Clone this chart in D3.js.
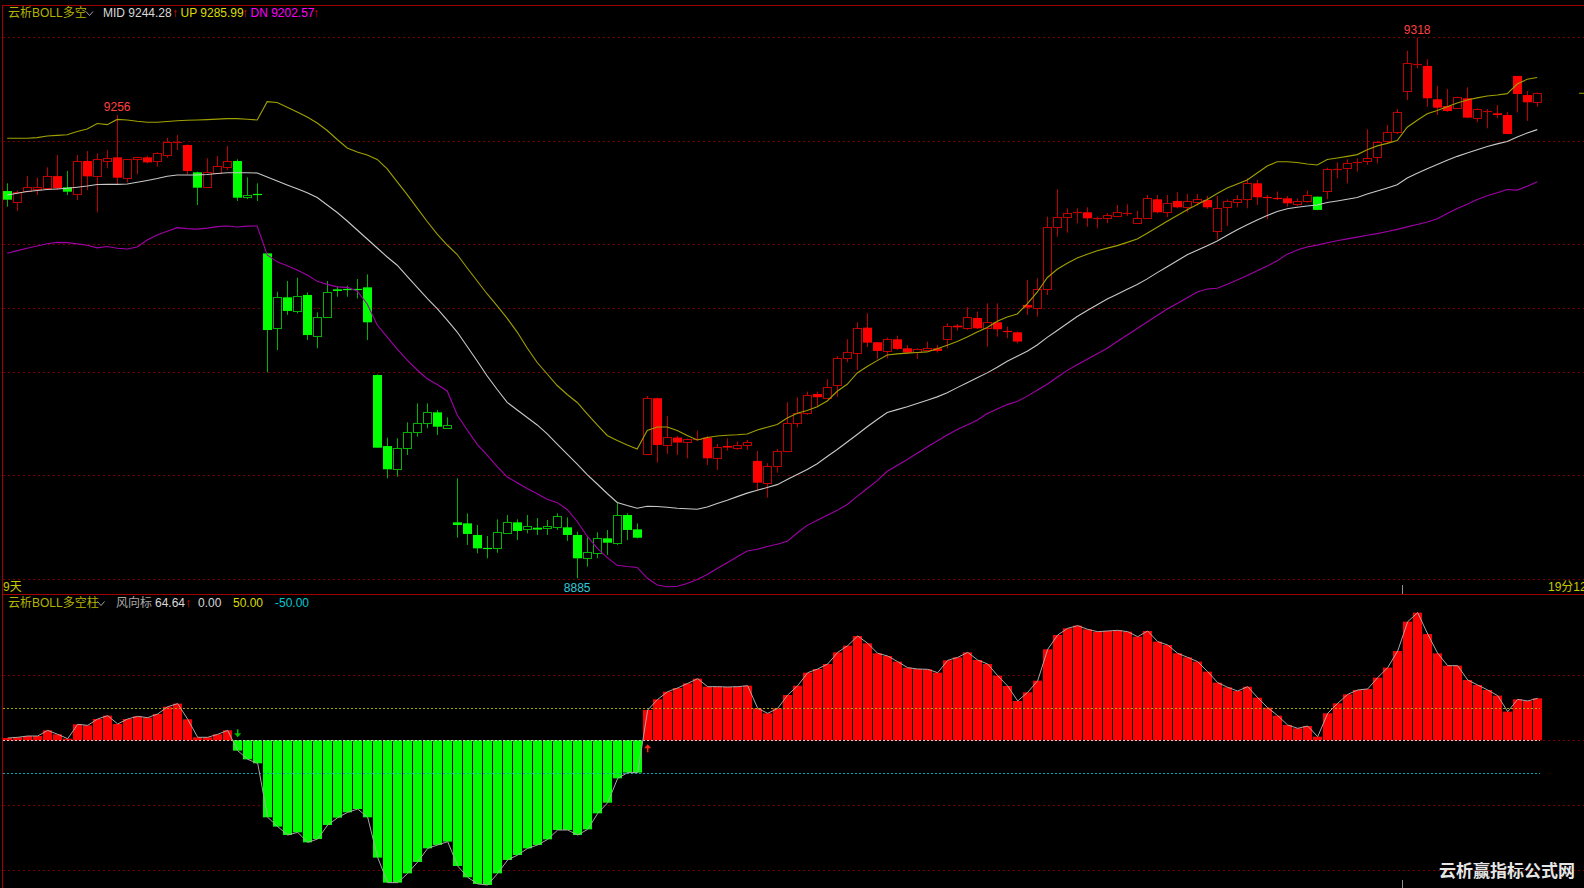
<!DOCTYPE html>
<html><head><meta charset="utf-8">
<script src="https://cdn.jsdelivr.net/npm/d3@7"></script>
<style>
html,body{margin:0;padding:0;background:#000;overflow:hidden}
svg{display:block}
text{font-family:"Liberation Sans","Noto Sans CJK SC",sans-serif}
</style></head><body>
<svg id="c" width="1584" height="888"></svg>
<script>
// ---- candle data (price) ----
const opens=[9195.1,9186.6,9194.6,9196.7,9197.3,9207.1,9198.1,9193.0,9219.2,9206.9,
9218.6,9222.1,9205.3,9220.5,9222.1,9219.2,9224.0,9233.6,9232.0,9210.1,
9197.8,9209.3,9214.6,9219.2,9190.1,9192.5,9145.2,9085.2,9110.0,9099.1,
9111.9,9079.0,9093.7,9116.4,9116.8,9116.8,9118.0,9047.8,8990.9,8972.3,
8989.1,9001.9,9009.1,9017.9,9005.6,8929.8,8929.0,8919.7,8909.1,8909.0,
8921.0,8929.8,8924.2,8925.5,8925.0,8926.4,8925.8,8919.7,8901.0,8905.8,
8917.0,8913.0,8935.7,8924.2,8984.6,9029.2,8991.8,8997.7,8993.9,8996.3,
8997.7,8981.1,8991.0,8989.7,8991.8,8979.0,8961.6,8975.0,8987.0,9009.1,
9017.2,9032.6,9030.0,9039.8,9061.2,9065.2,9085.7,9074.0,9067.1,9076.4,
9069.2,9065.7,9067.9,9069.2,9076.4,9087.3,9085.2,9093.5,9085.2,9090.0,
9083.6,9082.0,9103.9,9101.2,9116.5,9166.1,9174.1,9177.0,9178.1,9173.6,
9173.3,9175.2,9177.6,9170.1,9173.3,9188.5,9178.1,9187.2,9182.1,9186.1,
9188.0,9163.2,9182.6,9186.1,9188.8,9201.3,9190.4,9189.6,9189.3,9184.8,
9187.2,9190.6,9195.2,9212.5,9213.3,9217.9,9219.2,9222.1,9234.7,9242.2,
9274.7,9296.6,9295.3,9268.6,9263.2,9261.4,9269.4,9253.4,9258.7,9257.4,
9256.0,9287.3,9272.0,9266.2];
const highs=[9201.3,9195.5,9207.1,9205.8,9214.1,9224.0,9211.2,9224.0,9227.2,9225.3,
9228.0,9256.0,9220.5,9222.6,9223.4,9226.1,9237.8,9240.0,9232.5,9210.6,
9221.3,9223.2,9231.2,9220.5,9206.1,9201.3,9145.5,9114.5,9123.1,9125.7,
9114.0,9098.0,9123.1,9118.5,9119.3,9124.7,9128.4,9048.3,8997.6,8997.1,
9009.9,9025.1,9025.1,9019.8,9013.9,8965.1,8937.0,8927.7,8918.9,8932.2,
8935.7,8932.2,8935.7,8933.3,8931.7,8937.0,8933.8,8922.4,8917.8,8921.8,
8923.7,8945.8,8937.0,8929.0,9031.0,9029.7,9015.0,8999.0,8997.1,9003.3,
8999.0,8992.6,8997.1,8994.5,8995.8,8987.0,8977.1,8988.6,9026.0,9030.0,
9034.5,9034.5,9044.4,9063.1,9076.4,9090.0,9097.2,9074.2,9077.7,9079.3,
9071.9,9069.2,9074.5,9071.9,9089.2,9088.7,9102.0,9098.6,9105.2,9105.2,
9086.6,9082.6,9123.9,9125.3,9174.6,9196.5,9181.3,9181.3,9182.1,9174.6,
9177.3,9184.0,9184.5,9179.4,9192.0,9192.0,9192.0,9194.1,9192.8,9192.8,
9191.2,9191.2,9188.5,9192.0,9205.3,9204.0,9192.0,9194.7,9191.2,9189.3,
9195.5,9190.8,9213.9,9218.1,9220.5,9221.3,9244.6,9235.2,9248.0,9260.8,
9307.5,9318.0,9300.6,9279.3,9276.8,9270.7,9278.2,9261.4,9260.8,9264.0,
9258.2,9287.3,9275.3,9274.2];
const lows=[9182.6,9179.1,9194.0,9191.9,9196.5,9195.9,9191.9,9187.9,9195.9,9178.1,
9213.3,9199.9,9202.1,9208.5,9217.3,9214.6,9221.8,9228.0,9208.5,9183.9,
9197.8,9209.3,9212.0,9187.1,9188.7,9187.1,9049.9,9067.8,9095.9,9097.2,
9075.8,9069.2,9093.7,9110.5,9110.5,9109.2,9075.8,8989.6,8965.1,8966.4,
8983.7,8998.4,9005.1,8999.7,9005.1,8917.5,8911.7,8905.0,8901.0,8905.5,
8920.5,8915.7,8921.0,8919.7,8919.7,8923.7,8914.9,8885.0,8894.3,8901.0,
8903.7,8911.7,8915.7,8917.0,8984.6,8977.6,8984.6,8983.8,8981.1,8995.3,
8975.8,8971.8,8987.3,8987.8,8987.8,8955.8,8949.6,8969.6,8986.5,9005.9,
9015.8,9022.0,9030.0,9030.5,9058.0,9051.8,9070.0,9060.4,9061.2,9067.9,
9065.2,9060.7,9067.3,9065.7,9069.2,9083.3,9083.9,9084.7,9070.5,9078.5,
9077.2,9073.2,9095.9,9094.6,9111.9,9158.6,9161.8,9169.3,9166.6,9165.3,
9169.3,9174.6,9175.2,9168.8,9173.3,9177.3,9174.1,9181.3,9178.1,9183.5,
9180.8,9156.5,9167.2,9182.1,9181.3,9184.0,9172.5,9188.0,9182.6,9183.2,
9185.9,9179.8,9188.5,9205.3,9201.3,9210.7,9216.0,9217.3,9233.3,9240.6,
9268.0,9293.4,9262.7,9256.0,9258.7,9260.8,9253.4,9250.2,9245.4,9253.4,
9240.6,9258.2,9251.2,9262.7];
const closes=[9188.2,9194.6,9198.1,9198.1,9207.1,9197.3,9194.6,9219.2,9206.9,9220.5,
9221.3,9205.8,9220.5,9222.1,9218.1,9225.3,9234.1,9234.1,9211.2,9197.8,
9210.1,9215.2,9219.2,9189.8,9191.9,9192.4,9083.8,9110.0,9099.1,9110.8,
9079.8,9094.0,9114.0,9115.1,9116.6,9116.6,9090.0,8989.6,8972.3,8989.1,
9001.9,9009.1,9017.9,9006.4,9007.8,8927.7,8920.5,8909.0,8908.9,8921.8,
8929.8,8922.9,8926.6,8924.0,8926.9,8934.9,8919.7,8901.0,8905.8,8917.5,
8913.5,8935.7,8923.7,8917.5,9029.2,8991.8,8997.9,8993.7,8996.3,8996.9,
8981.1,8989.9,8989.7,8991.8,8994.2,8961.6,8975.0,8987.0,9009.1,9017.2,
9031.8,9030.0,9038.5,9061.2,9066.0,9085.2,9073.7,9067.1,9076.4,9068.7,
9065.7,9068.4,9069.2,9067.1,9087.1,9086.0,9094.0,9085.2,9090.0,9084.4,
9083.2,9074.6,9101.8,9116.7,9166.1,9174.1,9177.3,9178.1,9173.3,9173.8,
9176.0,9178.1,9177.8,9173.8,9189.3,9178.1,9185.3,9182.1,9187.2,9188.5,
9182.1,9181.3,9187.2,9188.5,9201.3,9190.1,9190.1,9189.3,9185.3,9187.2,
9192.0,9180.0,9212.8,9213.1,9217.3,9218.4,9221.3,9234.1,9242.2,9258.2,
9297.4,9297.1,9269.4,9261.9,9259.2,9270.2,9253.9,9260.6,9259.0,9256.0,
9240.8,9272.8,9266.2,9273.4];
// candles drawn in the bearish (green) tone
const greenCandles=[0,6,19,23,24,25,26,27,28,29,30,31,32,33,34,35,36,37,38,39,40,41,42,43,44,45,46,47,48,49,
50,51,52,53,54,55,56,57,58,59,60,61,62,63,131];

// ---- BOLL bands ----
const upBand=[9237.4,9237.4,9237.4,9237.9,9239.2,9239.7,9240.2,9242.8,9244.8,9249.2,
9248.3,9252.5,9252.0,9251.0,9250.2,9250.2,9250.8,9251.4,9251.8,9252.0,
9252.3,9252.7,9253.1,9253.1,9252.6,9252.0,9266.7,9266.0,9262.3,9258.4,
9254.4,9249.6,9243.6,9236.4,9229.6,9226.4,9224.0,9220.4,9212.8,9202.4,
9192.3,9181.5,9170.7,9160.7,9151.9,9144.3,9133.5,9123.1,9112.7,9103.1,
9093.1,9082.2,9069.4,9057.8,9048.6,9039.4,9032.2,9025.8,9016.6,9007.8,
8999.4,8995.4,8991.7,8988.5,9003.4,9006.2,9006.2,9003.4,8999.4,8995.8,
8997.8,8999.0,8999.6,8999.9,9000.6,9003.8,9006.0,9008.2,9013.4,9017.2,
9019.4,9022.4,9027.0,9034.8,9040.4,9049.4,9054.6,9059.3,9063.8,9064.7,
9065.3,9065.8,9066.3,9068.8,9071.7,9074.6,9078.2,9082.2,9085.8,9090.8,
9094.3,9096.7,9104.7,9114.1,9125.7,9132.5,9137.3,9141.5,9144.5,9147.3,
9149.4,9151.4,9154.0,9156.8,9161.4,9166.2,9171.0,9175.6,9180.2,9184.3,
9188.3,9193.1,9197.5,9200.8,9204.0,9209.6,9215.2,9218.6,9218.6,9218.0,
9216.8,9216.0,9220.4,9221.6,9222.9,9224.3,9228.2,9231.3,9233.3,9235.6,
9246.2,9251.8,9257.0,9259.7,9262.7,9265.6,9268.1,9269.7,9271.2,9272.0,
9273.1,9280.8,9284.7,9286.0];
const midBand=[9191.9,9193.4,9194.7,9195.5,9196.3,9196.8,9197.4,9198.2,9199.1,9200.3,
9200.5,9200.5,9200.7,9202.1,9203.6,9205.2,9207.0,9208.0,9208.0,9208.0,
9208.4,9209.2,9209.8,9209.8,9209.8,9209.6,9206.4,9203.2,9200.0,9196.9,
9193.8,9189.9,9183.9,9177.9,9171.1,9163.9,9156.7,9149.5,9142.3,9135.7,
9126.7,9117.9,9109.1,9100.9,9091.8,9082.2,9070.6,9059.0,9047.0,9036.2,
9025.9,9019.8,9013.8,9007.8,9000.6,8992.5,8984.5,8976.5,8968.1,8960.5,
8952.9,8945.7,8943.3,8941.1,8942.7,8942.5,8941.9,8941.1,8940.7,8940.3,
8942.1,8944.9,8947.5,8950.4,8953.2,8955.5,8957.7,8960.0,8964.1,8968.1,
8972.1,8976.8,8982.5,8988.2,8994.2,9000.2,9006.4,9012.2,9017.8,9020.1,
9022.4,9025.0,9027.6,9030.3,9033.6,9037.7,9041.6,9045.6,9049.5,9054.0,
9058.8,9062.8,9066.8,9071.8,9077.9,9083.5,9089.0,9094.6,9099.4,9104.0,
9108.7,9112.5,9116.5,9120.3,9124.8,9129.8,9134.5,9139.3,9144.1,9147.8,
9151.3,9155.1,9159.7,9164.2,9168.1,9171.9,9175.5,9178.7,9181.0,9182.1,
9183.2,9183.9,9185.9,9187.2,9188.6,9189.9,9192.7,9195.2,9197.6,9200.1,
9205.6,9209.3,9213.0,9216.3,9219.7,9222.9,9225.6,9228.2,9230.8,9232.9,
9234.8,9238.4,9241.6,9244.3];
const dnBand=[9145.3,9147.4,9149.3,9151.1,9152.9,9154.0,9153.8,9152.8,9151.7,9149.6,
9150.7,9149.3,9148.7,9150.3,9155.9,9159.9,9163.0,9165.8,9165.0,9164.6,
9165.4,9166.6,9167.1,9166.3,9167.0,9167.1,9143.9,9138.4,9135.3,9131.9,
9127.9,9122.8,9120.4,9118.4,9118.0,9115.1,9104.7,9087.8,9078.2,9068.6,
9059.8,9051.8,9044.8,9040.2,9035.0,9015.8,9003.8,8992.3,8983.7,8974.5,
8966.1,8961.5,8956.9,8952.7,8948.3,8945.6,8940.1,8930.5,8918.7,8909.1,
8901.6,8895.4,8894.4,8893.7,8885.2,8879.6,8878.2,8878.6,8880.8,8884.0,
8888.1,8892.8,8897.5,8902.2,8906.9,8908.3,8910.5,8912.2,8914.6,8921.3,
8927.4,8931.5,8935.5,8939.4,8944.1,8950.6,8956.9,8963.2,8970.7,8975.3,
8980.1,8985.2,8990.1,8995.0,8999.8,9004.2,9007.8,9011.6,9017.0,9020.6,
9024.1,9026.5,9030.9,9035.6,9040.4,9046.0,9051.5,9056.0,9060.4,9064.8,
9069.2,9074.6,9079.8,9085.1,9090.2,9095.5,9100.7,9105.1,9109.6,9114.2,
9116.7,9117.3,9120.4,9123.9,9127.4,9131.2,9135.0,9139.3,9144.6,9147.9,
9150.3,9151.8,9153.7,9155.3,9156.8,9158.2,9159.7,9161.0,9162.7,9164.4,
9166.4,9168.4,9170.4,9173.0,9177.1,9181.1,9184.6,9188.4,9191.3,9193.8,
9196.3,9195.9,9199.0,9202.6];

// ---- wind vane histogram ----
const windVane=[3.5,4.6,6.6,6.6,15.3,9.2,2.5,24.6,23,32.8,37.9,25.1,32.8,36.9,34.8,40.5,51.7,56.4,32.3,4.6,4.6,9.2,15.3,
-15.9,-29.3,-35.4,-118.5,-132.8,-145.7,-141.6,-157,-151.8,-130.3,-119,-110.8,-105.7,-118.5,-180.5,-219,-219,-204.7,
-187.2,-166.2,-161,-155.9,-193.4,-210.8,-221,-222.6,-204.7,-184.1,-176.5,-166.2,-161,-152.4,-138,-138,-145.7,-137,
-112.4,-96,-58.5,-49.7,-49.7,
46.6,63,74.8,80.5,87.6,94.8,82.5,82.5,82,82.5,84,49.2,41.5,49.2,69.7,84,104,109.7,117.4,135.3,145.6,160.5,149.2,133.8,
129.7,121,111.7,109.7,109.2,104,123,127.6,135.3,123.5,117.4,99.4,83.5,60.5,73.8,91.7,140,162,172.3,176.4,170.7,167.1,
168.2,169.2,167.1,159.4,168.2,151.8,146.6,133.8,127.6,121,105.6,88.7,81.5,75.8,82.5,65.6,50.2,37.9,23.5,18.4,22,5.6,
41.5,56.9,70.7,77.4,79,96.4,111.8,137.4,182.5,196.4,163.5,133.8,114.8,114.8,92.8,85.1,77.4,68.7,44.1,63,60.5,64.64];
const signalDown=[23];
const signalUp=[64];

// ---- grids / reference levels / labels ----
const priceGrid=[9318.2,9235.2,9152.5,9101.2,9050.4,8967.7,8884.2];
const vaneGrid=[100,0,-100,-200];
const vaneRefs=[{v:50,c:'#a8a800'},{v:0,c:'#d0d0d0'},{v:-50,c:'#00a8b0'}];
const markHigh=[{i:11,label:'9256'},{i:141,label:'9318'}];
const markLow=[{i:57,label:'8885'}];

const W=1584,H=888;
const svg=d3.select('#c');
svg.append('rect').attr('width',W).attr('height',H).attr('fill','#000');

const n=closes.length;
const x=d3.scaleLinear().domain([0,n-1]).range([7.2,1537.2]);
const y=d3.scaleLinear().domain([8885,9318]).range([578.3,37.6]);
const yv=d3.scaleLinear().domain([0,100]).range([740.3,675.3]);

// grids
svg.append('g').selectAll('line').data(priceGrid).join('line')
  .attr('x1',3).attr('x2',W).attr('y1',d=>Math.round(y(d))+0.5).attr('y2',d=>Math.round(y(d))+0.5)
  .attr('stroke','#780000').attr('stroke-width',1).attr('stroke-dasharray','2,3');
svg.append('g').selectAll('line').data(vaneGrid).join('line')
  .attr('x1',3).attr('x2',W).attr('y1',d=>Math.round(yv(d))+0.5).attr('y2',d=>Math.round(yv(d))+0.5)
  .attr('stroke','#780000').attr('stroke-width',1).attr('stroke-dasharray','2,3');

// borders
const frame=svg.append('g').attr('stroke','#a00000').attr('stroke-width',1);
frame.append('line').attr('x1',2.5).attr('x2',2.5).attr('y1',5).attr('y2',H);
frame.append('line').attr('x1',2.5).attr('x2',W).attr('y1',5.5).attr('y2',5.5);
frame.append('line').attr('x1',2.5).attr('x2',W).attr('y1',594.5).attr('y2',594.5);

// candles
const greenSet=new Set(greenCandles);
const cg=svg.append('g');
d3.range(n).forEach(i=>{
  const g=greenSet.has(i);
  const cx=Math.round(x(i))+0.5;
  const dark=g?'#00b400':'#c00000', bright=g?'#00ff00':'#ff0000';
  const o=opens[i],c=closes[i];
  cg.append('line').attr('x1',cx).attr('x2',cx).attr('y1',y(highs[i])).attr('y2',y(lows[i]))
    .attr('stroke',dark).attr('stroke-width',1);
  const top=y(Math.max(o,c)), bot=y(Math.min(o,c));
  const h=bot-top;
  if(h<1.5){
    cg.append('line').attr('x1',cx-4.5).attr('x2',cx+4.5).attr('y1',Math.round(y(c))+0.5).attr('y2',Math.round(y(c))+0.5)
      .attr('stroke',c<o?bright:dark).attr('stroke-width',1.2);
  } else if(c>o){
    cg.append('rect').attr('x',cx-4).attr('width',8).attr('y',Math.round(top)+0.5).attr('height',Math.round(h))
      .attr('fill','#000').attr('stroke',dark).attr('stroke-width',1);
  } else {
    cg.append('rect').attr('x',cx-4.5).attr('width',9).attr('y',top).attr('height',h).attr('fill',bright);
  }
});

// bands
const bandLine=d3.line().x((d,i)=>x(i)).y(d=>y(d));
svg.append('path').attr('d',bandLine(upBand)).attr('fill','none').attr('stroke','#a0a000').attr('stroke-width',1.1);
svg.append('path').attr('d',bandLine(midBand)).attr('fill','none').attr('stroke','#c8c8c8').attr('stroke-width',1.1);
svg.append('path').attr('d',bandLine(dnBand)).attr('fill','none').attr('stroke','#a000a8').attr('stroke-width',1.1);

// last price marker at right edge
svg.append('line').attr('x1',W-5).attr('x2',W).attr('y1',y(closes[n-1])).attr('y2',y(closes[n-1]))
  .attr('stroke','#a0a000').attr('stroke-width',1);

// high/low labels
svg.append('g').selectAll('text').data(markHigh).join('text')
  .attr('x',d=>x(d.i)).attr('y',d=>y(highs[d.i])-4).attr('text-anchor','middle')
  .attr('font-size',12).attr('fill','#ff4040').text(d=>d.label);
svg.append('g').selectAll('text').data(markLow).join('text')
  .attr('x',d=>x(d.i)).attr('y',d=>y(lows[d.i])+13.5).attr('text-anchor','middle')
  .attr('font-size',12).attr('fill','#30c8d8').text(d=>d.label);

// histogram
const hb=svg.append('g');
hb.selectAll('rect').data(windVane).join('rect')
  .attr('x',(d,i)=>Math.round(x(i))-4).attr('width',9)
  .attr('y',d=>Math.min(yv(0),yv(d))).attr('height',d=>Math.abs(yv(d)-yv(0)))
  .attr('fill',(d,i)=>i>=23&&i<=63?'#00ff00':'#ff0000');
// reference levels
svg.append('g').selectAll('line').data(vaneRefs).join('line')
  .attr('x1',3).attr('x2',1540).attr('y1',d=>Math.round(yv(d.v))+0.5).attr('y2',d=>Math.round(yv(d.v))+0.5)
  .attr('stroke',d=>d.c).attr('stroke-width',1).attr('stroke-dasharray','2,2');
svg.append('path').attr('d',d3.line().x((d,i)=>x(i)+0.5).y(d=>yv(d))(windVane))
  .attr('fill','none').attr('stroke','#a8a8a8').attr('stroke-width',1);

// signal arrows
signalDown.forEach(i=>{
  const cx=x(i)+0.5, y0=yv(0)-11;
  svg.append('path').attr('d',`M${cx},${y0} L${cx},${y0+5}`).attr('stroke','#00c000').attr('stroke-width',1.5);
  svg.append('path').attr('d',`M${cx-3.5},${y0+4} L${cx+3.5},${y0+4} L${cx},${y0+8} Z`).attr('fill','#00c000');
});
signalUp.forEach(i=>{
  const cx=x(i)+0.5, y0=yv(0)+12;
  svg.append('path').attr('d',`M${cx},${y0} L${cx},${y0-5}`).attr('stroke','#ff2020').attr('stroke-width',1.5);
  svg.append('path').attr('d',`M${cx-3.5},${y0-4} L${cx+3.5},${y0-4} L${cx},${y0-8} Z`).attr('fill','#ff2020');
});

// day separator ticks
const sepX=Math.round((x(139)+x(140))/2)+0.5;
svg.append('line').attr('x1',sepX).attr('x2',sepX).attr('y1',585).attr('y2',594).attr('stroke','#909090');
svg.append('line').attr('x1',sepX).attr('x2',sepX).attr('y1',880).attr('y2',888).attr('stroke','#909090');

// header texts
function chevron(x0,y0){
  svg.append('path').attr('d',`M${x0},${y0} L${x0+3.5},${y0+4} L${x0+7},${y0}`)
    .attr('fill','none').attr('stroke','#a0a0a0').attr('stroke-width',1);
}
const hdr=[
  {x:8,y:17,t:'云析BOLL多空',c:'#b4b400'},
  {x:103,y:17,t:'MID 9244.28',c:'#d8d8d8'},
  {x:172,y:17,t:'↑',c:'#e00000'},
  {x:180.5,y:17,t:'UP 9285.99',c:'#dcdc00'},
  {x:242,y:17,t:'↑',c:'#e00000'},
  {x:250.5,y:17,t:'DN 9202.57',c:'#ff00ff'},
  {x:313,y:17,t:'↑',c:'#e00000'},
  {x:8,y:607,t:'云析BOLL多空柱',c:'#b4b400'},
  {x:116,y:607,t:'风向标',c:'#a8a8a8'},
  {x:155,y:607,t:'64.64',c:'#d8d8d8'},
  {x:185,y:607,t:'↑',c:'#e00000'},
  {x:198,y:607,t:'0.00',c:'#d8d8d8'},
  {x:233,y:607,t:'50.00',c:'#dcdc00'},
  {x:275,y:607,t:'-50.00',c:'#00c8d0'},
  {x:3,y:591,t:'9天',c:'#c8c800'},
  {x:1548,y:591,t:'19分12',c:'#c8c800'}
];
svg.append('g').selectAll('text').data(hdr).join('text')
  .attr('x',d=>d.x).attr('y',d=>d.y).attr('font-size',12).attr('fill',d=>d.c).text(d=>d.t);
chevron(86,11.5);
chevron(97.5,601.5);

// watermark
svg.append('text').attr('x',1439).attr('y',877).attr('font-size',17).attr('font-weight','bold')
  .attr('font-family','"Noto Sans CJK SC",sans-serif').attr('fill','#e6e6e6').text('云析赢指标公式网');
</script>
</body></html>
